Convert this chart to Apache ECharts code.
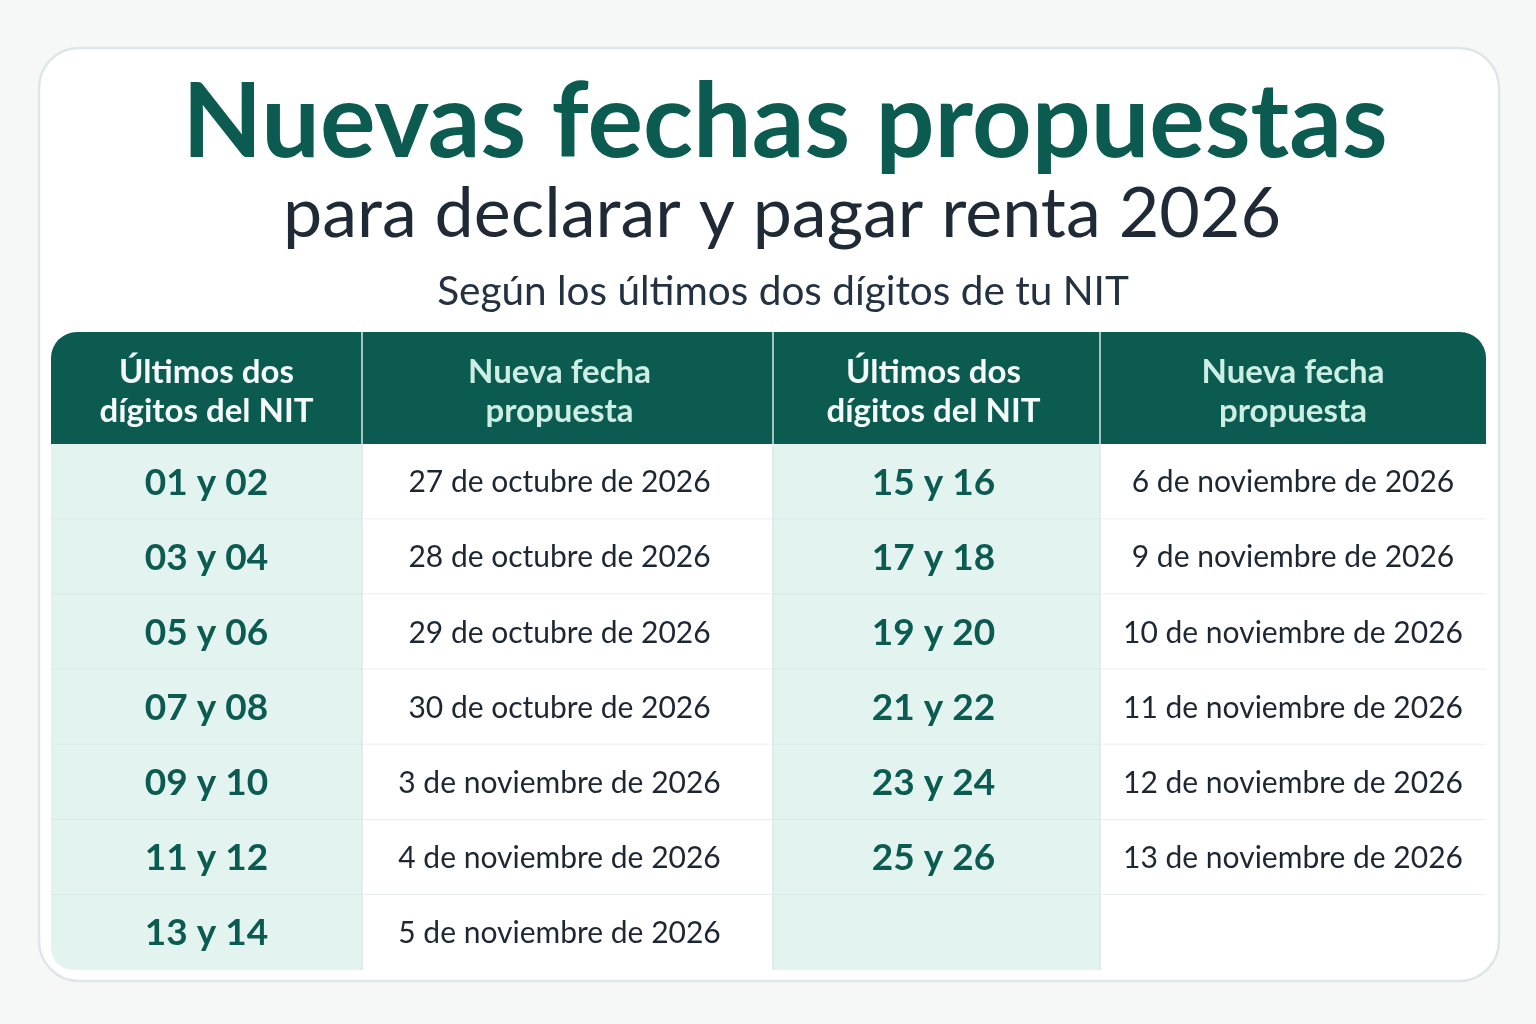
<!DOCTYPE html>
<html>
<head>
<meta charset="utf-8">
<script src="https://cdn.jsdelivr.net/npm/echarts@6/dist/echarts.min.js"></script>
<style>
  html, body { margin: 0; padding: 0; background: #f6f8f8; }
  #chart { width: 1536px; height: 1024px; }
</style>
</head>
<body>
<div id="chart"></div>
<script>
// datos de la tabla
var encabezados = ['Últimos dos\ndígitos del NIT', 'Nueva fecha\npropuesta', 'Últimos dos\ndígitos del NIT', 'Nueva fecha\npropuesta'];
var nitIzquierda = ['01 y 02', '03 y 04', '05 y 06', '07 y 08', '09 y 10', '11 y 12', '13 y 14'];
var fechaIzquierda = [
  '27 de octubre de 2026', '28 de octubre de 2026', '29 de octubre de 2026', '30 de octubre de 2026',
  '3 de noviembre de 2026', '4 de noviembre de 2026', '5 de noviembre de 2026'
];
var nitDerecha = ['15 y 16', '17 y 18', '19 y 20', '21 y 22', '23 y 24', '25 y 26'];
var fechaDerecha = [
  '6 de noviembre de 2026', '9 de noviembre de 2026', '10 de noviembre de 2026',
  '11 de noviembre de 2026', '12 de noviembre de 2026', '13 de noviembre de 2026'
];
var filas = ['1', '2', '3', '4', '5', '6', '7'];

// bordes de columna (en unidades del eje x, que va de 0 a 1435 px)
var bordes = [0, 311, 722, 1049, 1435];
// pequeño desplazamiento del texto dentro de cada columna
var desplazamiento = [0, -8, -3, 0];
var FONT = 'Lato, "Open Sans", sans-serif';
var VERDE = '#0b5b51';
var MENTA = '#e3f4f0';

var chartDom = document.getElementById('chart');
var myChart = echarts.init(chartDom, null, { renderer: 'canvas' });

// celdas del encabezado
var celdasEncabezado = encabezados.map(function (t, i) { return [i, 0, t]; });

// celdas del cuerpo: [columna, fila, texto]
var celdasCuerpo = [];
for (var r = 0; r < filas.length; r++) {
  celdasCuerpo.push([0, r, nitIzquierda[r] || '']);
  celdasCuerpo.push([1, r, fechaIzquierda[r] || '']);
  celdasCuerpo.push([2, r, nitDerecha[r] || '']);
  celdasCuerpo.push([3, r, fechaDerecha[r] || '']);
}

function renderEncabezado(params, api) {
  var col = api.value(0);
  var row = api.value(1);
  var p0 = api.coord([bordes[col], row]);
  var p1 = api.coord([bordes[col + 1], row]);
  var h = api.size([0, 1])[1];
  var radio = [col === 0 ? 26 : 0, col === 3 ? 26 : 0, 0, 0];
  return {
    type: 'group',
    children: [
      {
        type: 'rect',
        shape: { x: p0[0], y: p0[1] - h / 2, width: p1[0] - p0[0], height: h, r: radio },
        style: { fill: VERDE }
      },
      {
        type: 'line',
        shape: { x1: p0[0], y1: p0[1] - h / 2, x2: p0[0], y2: p0[1] + h / 2 },
        style: { stroke: col === 0 ? 'transparent' : '#d6e9e4', lineWidth: 1.5 }
      },
      {
        type: 'text',
        style: {
          x: (p0[0] + p1[0]) / 2 + desplazamiento[col], y: p0[1] + 4,
          text: api.value(2),
          align: 'center', verticalAlign: 'middle',
          font: 'bold 33px ' + FONT,
          lineHeight: 39,
          fill: col % 2 === 0 ? '#f4fbf9' : '#cdeee3'
        }
      }
    ]
  };
}

function renderCuerpo(params, api) {
  var col = api.value(0);
  var row = api.value(1);
  var p0 = api.coord([bordes[col], row]);
  var p1 = api.coord([bordes[col + 1], row]);
  var h = api.size([0, 1])[1];
  var ultima = row === filas.length - 1;
  var radio = [0, 0, (ultima && col === 3) ? 22 : 0, (ultima && col === 0) ? 22 : 0];
  var esNit = col % 2 === 0;
  var hijos = [
    {
      type: 'rect',
      shape: { x: p0[0], y: p0[1] - h / 2, width: p1[0] - p0[0], height: h, r: radio },
      style: { fill: esNit ? MENTA : '#ffffff' }
    }
  ];
  // línea horizontal bajo la celda (si tiene contenido y no es la última)
  if (!ultima && api.value(2) !== '') {
    hijos.push({
      type: 'line',
      shape: { x1: p0[0], y1: p0[1] + h / 2, x2: p1[0], y2: p0[1] + h / 2 },
      style: { stroke: esNit ? '#d2e8e2' : '#e3e9eb', lineWidth: 1.5 }
    });
  }
  if (col > 0) {
    hijos.push({
      type: 'line',
      shape: { x1: p0[0], y1: p0[1] - h / 2, x2: p0[0], y2: p0[1] + h / 2 },
      style: { stroke: '#d8e8e4', lineWidth: 1.5 }
    });
  }
  hijos.push({
    type: 'text',
    style: {
      x: (p0[0] + p1[0]) / 2 + desplazamiento[col], y: p0[1] + 1,
      text: api.value(2),
      align: 'center', verticalAlign: 'middle',
      font: esNit ? ('bold 37px ' + FONT) : ('30px ' + FONT),
      fill: esNit ? VERDE : '#1d2633'
    }
  });
  return { type: 'group', children: hijos };
}

var option = {
  backgroundColor: '#f6f8f8',
  animation: false,
  graphic: [
    {
      type: 'rect',
      shape: { x: 39, y: 48, width: 1460, height: 933, r: 40 },
      style: { fill: '#ffffff', stroke: '#dde6e9', lineWidth: 2.5 },
      z: -10
    }
  ],
  title: [
    {
      text: 'Nuevas fechas propuestas',
      left: 780, top: 66, textAlign: 'center',
      textStyle: { fontFamily: FONT, fontWeight: 'bold', fontSize: 104, color: VERDE }
    },
    {
      text: 'para declarar y pagar renta 2026',
      left: 777, top: 174, textAlign: 'center',
      textStyle: { fontFamily: FONT, fontWeight: 'normal', fontSize: 70, color: '#1f2a36' }
    },
    {
      text: 'Según los últimos dos dígitos de tu NIT',
      left: 778, top: 266, textAlign: 'center',
      textStyle: { fontFamily: FONT, fontWeight: 'normal', fontSize: 40.5, color: '#243140' }
    }
  ],
  grid: [
    { left: 51, width: 1435, top: 332, height: 112, containLabel: false },
    { left: 51, width: 1435, top: 444, height: 526, containLabel: false }
  ],
  xAxis: [
    { type: 'value', gridIndex: 0, min: 0, max: 1435, show: false },
    { type: 'value', gridIndex: 1, min: 0, max: 1435, show: false }
  ],
  yAxis: [
    { type: 'category', gridIndex: 0, data: ['h'], inverse: true, show: false },
    { type: 'category', gridIndex: 1, data: filas, inverse: true, show: false }
  ],
  series: [
    {
      type: 'custom',
      xAxisIndex: 0, yAxisIndex: 0,
      renderItem: renderEncabezado,
      data: celdasEncabezado,
      silent: true
    },
    {
      type: 'custom',
      xAxisIndex: 1, yAxisIndex: 1,
      renderItem: renderCuerpo,
      data: celdasCuerpo,
      silent: true
    }
  ]
};

myChart.setOption(option);
</script>
</body>
</html>
